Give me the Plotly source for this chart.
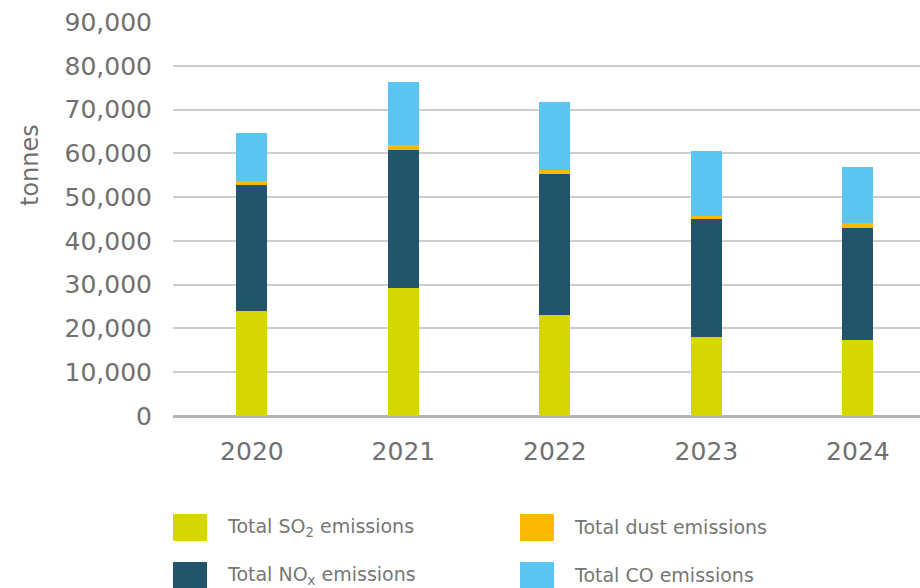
import plotly.graph_objects as go

# Annual air emissions, tonnes
years = ["2020", "2021", "2022", "2023", "2024"]
so2 = [24050, 29200, 23100, 18050, 17350]
nox = [28700, 31550, 32200, 26950, 25600]
dust = [900, 1150, 1000, 750, 1150]
co = [10950, 14400, 15450, 14800, 12800]

series_names = ["Total SO<sub>2</sub> emissions", "Total NO<sub>x</sub> emissions",
                "Total dust emissions", "Total CO emissions"]
series_values = [so2, nox, dust, co]
series_colors = ["#D4D800", "#22546C", "#FBB900", "#5BC5F2"]

y_ticks = list(range(0, 90001, 10000))

W, H = 920, 588
L, R, T, B = 173, 0, 22, 172
PW, PH = W - L - R, H - T - B

FONT = "DejaVu Sans"
GREY = "#707070"

fig = go.Figure()
for name, vals, col in zip(series_names, series_values, series_colors):
    fig.add_trace(go.Bar(x=years, y=vals, name=name, marker=dict(color=col, line=dict(width=0)),
                         width=0.205, showlegend=False))

fig.update_layout(
    width=W, height=H, barmode="stack",
    margin=dict(l=L, r=R, t=T, b=B, pad=0),
    paper_bgcolor="white", plot_bgcolor="white",
    font=dict(family=FONT, color=GREY),
    xaxis=dict(range=[-0.521, 4.41], showgrid=False, showline=False, zeroline=False,
               tickfont=dict(size=25, color=GREY), ticklabelstandoff=18, ticks=""),
    yaxis=dict(range=[0, 90000], tickvals=y_ticks, tickformat=",d",
               showgrid=True, gridcolor="#cdcdcd", gridwidth=1.5,
               zeroline=True, zerolinecolor="#b4b4b4", zerolinewidth=2.5,
               tickfont=dict(size=25, color=GREY), ticklabelstandoff=20),
)


def px_x(px):
    return (px - L) / PW


def px_y(py):
    return (H - B - py) / PH


# Y-axis unit label
fig.add_annotation(xref="paper", yref="paper", x=px_x(30), y=px_y(165), text="tonnes",
                   textangle=-90, showarrow=False, xanchor="center", yanchor="middle",
                   font=dict(size=24, color=GREY, family=FONT))

# Legend: two columns of swatch + label
legend_pos = [(173, 527), (173, 575), (520, 527), (520, 575)]
for (lx, ly), name, col in zip(legend_pos, series_names, series_colors):
    fig.add_shape(type="rect", xref="paper", yref="paper",
                  x0=px_x(lx), x1=px_x(lx + 34), y0=px_y(ly - 13), y1=px_y(ly + 14),
                  fillcolor=col, line=dict(width=0))
    fig.add_annotation(xref="paper", yref="paper", x=px_x(lx + 52), y=px_y(ly),
                       text=name, showarrow=False, xanchor="left", yanchor="middle",
                       font=dict(size=19, color="#767676", family=FONT))

fig.write_html("out.html")
